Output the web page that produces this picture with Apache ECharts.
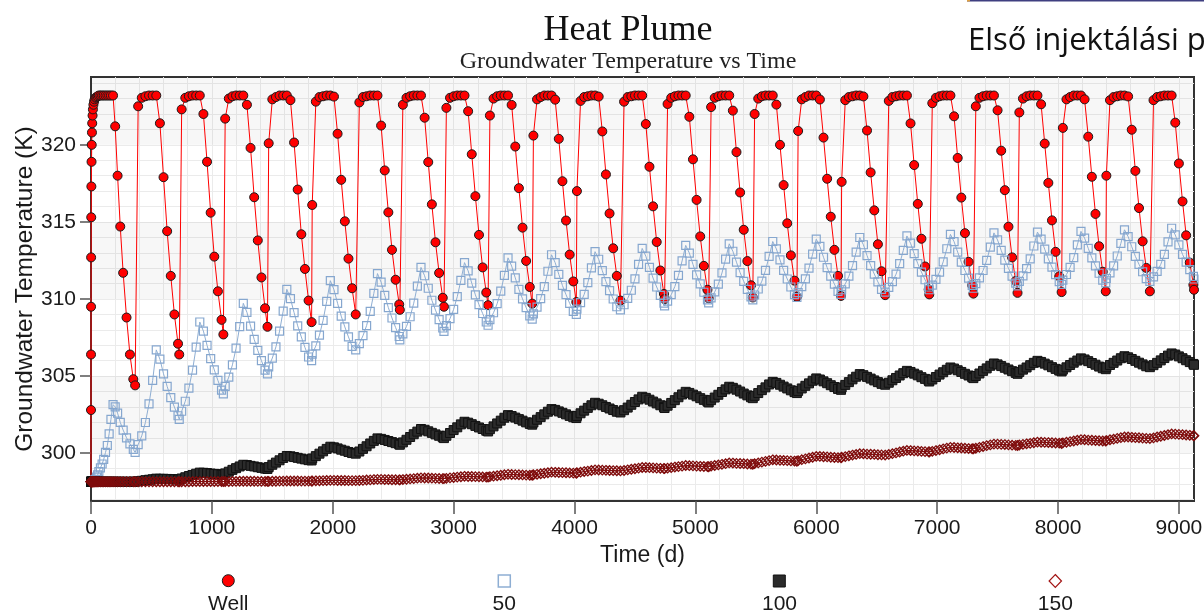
<!DOCTYPE html>
<html>
<head>
<meta charset="utf-8">
<script src="https://cdn.jsdelivr.net/npm/echarts/dist/echarts.min.js"></script>
<style>
html,body{margin:0;padding:0;background:#fff;}
#chart{width:1204px;height:615px;}
</style>
</head>
<body>
<div id="chart"></div>
<script>
// ---------------- DATA ----------------
const seriesNames = ['Well', '50', '100', '150'];
const xTickValues = [0, 1000, 2000, 3000, 4000, 5000, 6000, 7000, 8000, 9000];
const yTickValues = [300, 305, 310, 315, 320];
const shadedBands = [[300, 305], [310, 315], [320, 324.4]];

// output times (days) during the first injection/extraction year
const year1Times = [0, 0.1, 0.25, 0.5, 1, 2, 3, 4.5, 6, 8, 10, 13, 16, 20, 25, 30, 38, 46, 55, 65, 78, 92, 105, 120, 135, 150, 165, 182.5, 200, 220, 242, 266, 294, 322, 350, 365];
// after year 1 the model writes output every 30 days plus at each year end
const cycleDays = 365;
const outputStep = 30;
const cycleCount = 25;

const wellYear1 = [298.15, 302.8, 306.4, 309.5, 312.7, 315.3, 317.3, 318.9, 320.0, 320.8, 321.4, 321.9, 322.3, 322.6, 322.8, 322.95, 323.05, 323.1, 323.15, 323.2, 323.2, 323.2, 323.2, 323.2, 323.2, 323.2, 323.2, 323.2, 321.2, 318.0, 314.7, 311.7, 308.8, 306.4, 304.8, 304.4];
const s50Year1 = [298.15, 298.15, 298.15, 298.15, 298.15, 298.15, 298.15, 298.15, 298.15, 298.15, 298.16, 298.17, 298.18, 298.2, 298.23, 298.27, 298.3, 298.45, 298.6, 298.8, 299.05, 299.3, 299.6, 300.05, 300.5, 301.26, 302.2, 303.15, 303.0, 302.6, 302.0, 301.5, 301.0, 300.6, 300.25, 300.05];
const s100Year1 = [298.15, 298.15, 298.15, 298.15, 298.15, 298.15, 298.15, 298.15, 298.15, 298.15, 298.15, 298.15, 298.15, 298.15, 298.15, 298.15, 298.15, 298.15, 298.15, 298.15, 298.15, 298.15, 298.15, 298.15, 298.15, 298.15, 298.15, 298.15, 298.15, 298.15, 298.15, 298.15, 298.15, 298.15, 298.15, 298.15];
const s150Year1 = [298.15, 298.15, 298.15, 298.15, 298.15, 298.15, 298.15, 298.15, 298.15, 298.15, 298.15, 298.15, 298.15, 298.15, 298.15, 298.15, 298.15, 298.15, 298.15, 298.15, 298.15, 298.15, 298.15, 298.15, 298.15, 298.15, 298.15, 298.15, 298.15, 298.15, 298.15, 298.15, 298.15, 298.15, 298.15, 298.15];

// years 2..25, 13 outputs per year
const wellCycles = [
  [322.5, 323.05, 323.15, 323.2, 323.2, 323.2, 321.4, 317.9, 314.4, 311.5, 309.0, 307.1, 306.4],
  [322.3, 323.05, 323.15, 323.2, 323.2, 323.2, 322.0, 318.9, 315.6, 312.75, 310.5, 308.65, 307.7],
  [321.7, 323.0, 323.15, 323.2, 323.2, 323.2, 322.6, 319.8, 316.6, 313.8, 311.4, 309.4, 308.2],
  [320.1, 322.95, 323.1, 323.2, 323.2, 323.2, 322.9, 320.15, 317.1, 314.2, 311.95, 309.9, 308.5],
  [316.1, 322.8, 323.1, 323.15, 323.2, 323.2, 323.13, 320.72, 317.73, 315.04, 312.62, 310.7, 309.0],
  [322.75, 323.1, 323.15, 323.2, 323.2, 323.2, 321.25, 318.34, 315.62, 313.19, 311.25, 309.65, 309.3],
  [322.6, 323.05, 323.15, 323.2, 323.2, 323.2, 321.76, 318.88, 316.14, 313.68, 311.69, 310.08, 309.5],
  [322.4, 323.05, 323.15, 323.2, 323.2, 323.2, 322.18, 319.39, 316.67, 314.16, 312.05, 310.42, 309.6],
  [321.9, 323.0, 323.15, 323.2, 323.2, 323.2, 322.59, 319.89, 317.19, 314.63, 312.47, 310.78, 309.7],
  [320.6, 322.95, 323.1, 323.2, 323.2, 323.2, 322.93, 320.39, 317.64, 315.09, 312.88, 311.14, 309.8],
  [317.0, 322.85, 323.1, 323.15, 323.2, 323.2, 323.13, 320.87, 318.08, 315.55, 313.29, 311.5, 309.9],
  [322.8, 323.1, 323.15, 323.2, 323.2, 323.2, 321.35, 318.58, 316.01, 313.7, 311.85, 310.33, 310.0],
  [322.65, 323.05, 323.15, 323.2, 323.2, 323.2, 321.82, 319.06, 316.43, 314.06, 312.15, 310.6, 310.05],
  [322.45, 323.05, 323.15, 323.2, 323.2, 323.2, 322.22, 319.53, 316.91, 314.49, 312.46, 310.89, 310.1],
  [322.0, 323.0, 323.15, 323.2, 323.2, 323.2, 322.61, 320.0, 317.39, 314.91, 312.83, 311.19, 310.15],
  [320.9, 322.95, 323.1, 323.2, 323.2, 323.2, 322.94, 320.47, 317.8, 315.34, 313.19, 311.5, 310.2],
  [317.6, 322.9, 323.1, 323.15, 323.2, 323.2, 323.14, 320.93, 318.21, 315.75, 313.55, 311.8, 310.25],
  [322.85, 323.1, 323.15, 323.2, 323.2, 323.2, 321.39, 318.69, 316.17, 313.91, 312.11, 310.62, 310.3],
  [322.7, 323.05, 323.15, 323.2, 323.2, 323.2, 321.85, 319.15, 316.58, 314.27, 312.41, 310.89, 310.35],
  [322.5, 323.05, 323.15, 323.2, 323.2, 323.2, 322.24, 319.62, 317.06, 314.69, 312.7, 311.17, 310.4],
  [322.1, 323.0, 323.15, 323.2, 323.2, 323.2, 322.63, 320.08, 317.53, 315.1, 313.06, 311.47, 310.45],
  [321.1, 322.95, 323.1, 323.2, 323.2, 323.2, 322.95, 320.53, 317.93, 315.52, 313.42, 311.77, 310.5],
  [318.0, 322.9, 323.1, 323.15, 323.2, 323.2, 323.14, 320.98, 318.31, 315.9, 313.74, 312.02, 310.5],
  [322.9, 323.1, 323.15, 323.2, 323.2, 323.2, 321.44, 318.79, 316.33, 314.13, 312.36, 310.92, 310.6]
];
const s50Cycles = [
  [300.55, 301.13, 301.99, 303.2, 304.72, 306.7, 306.1, 305.15, 304.33, 303.61, 302.99, 302.43, 302.2],
  [302.72, 303.37, 304.22, 305.39, 306.88, 308.51, 307.92, 307.0, 306.13, 305.4, 304.72, 304.09, 303.85],
  [304.33, 304.94, 305.73, 306.81, 308.21, 309.72, 309.14, 308.24, 307.38, 306.67, 306.0, 305.39, 305.15],
  [305.6, 306.17, 306.9, 307.92, 309.22, 310.63, 310.03, 309.12, 308.26, 307.54, 306.86, 306.24, 306.0],
  [306.43, 306.96, 307.66, 308.62, 309.85, 311.19, 310.61, 309.72, 308.89, 308.19, 307.54, 306.93, 306.7],
  [307.11, 307.62, 308.28, 309.2, 310.37, 311.65, 311.09, 310.24, 309.44, 308.77, 308.15, 307.57, 307.35],
  [307.74, 308.22, 308.85, 309.73, 310.84, 312.05, 311.51, 310.7, 309.92, 309.28, 308.67, 308.12, 307.9],
  [308.27, 308.73, 309.33, 310.15, 311.21, 312.36, 311.83, 311.03, 310.27, 309.64, 309.06, 308.51, 308.3],
  [308.66, 309.11, 309.7, 310.51, 311.54, 312.67, 312.14, 311.37, 310.63, 310.01, 309.44, 308.91, 308.7],
  [309.04, 309.47, 310.03, 310.81, 311.8, 312.87, 312.36, 311.6, 310.88, 310.28, 309.72, 309.2, 309.0],
  [309.34, 309.76, 310.3, 311.06, 312.02, 313.07, 312.58, 311.84, 311.13, 310.55, 310.0, 309.5, 309.3],
  [309.63, 310.04, 310.57, 311.31, 312.25, 313.28, 312.78, 312.05, 311.36, 310.78, 310.24, 309.74, 309.55],
  [309.87, 310.28, 310.81, 311.53, 312.47, 313.48, 312.98, 312.25, 311.56, 310.98, 310.44, 309.94, 309.75],
  [310.07, 310.46, 310.97, 311.69, 312.59, 313.58, 313.1, 312.39, 311.71, 311.15, 310.63, 310.14, 309.95],
  [310.26, 310.65, 311.16, 311.86, 312.76, 313.73, 313.25, 312.54, 311.86, 311.3, 310.78, 310.29, 310.1],
  [310.41, 310.8, 311.31, 312.01, 312.91, 313.88, 313.41, 312.71, 312.04, 311.48, 310.97, 310.49, 310.3],
  [310.6, 310.98, 311.48, 312.16, 313.04, 313.99, 313.52, 312.82, 312.17, 311.62, 311.11, 310.63, 310.45],
  [310.75, 311.13, 311.61, 312.29, 313.15, 314.09, 313.62, 312.94, 312.29, 311.75, 311.25, 310.78, 310.6],
  [310.9, 311.27, 311.75, 312.41, 313.26, 314.19, 313.72, 313.04, 312.39, 311.85, 311.35, 310.88, 310.7],
  [311.0, 311.37, 311.85, 312.51, 313.36, 314.29, 313.83, 313.16, 312.52, 311.99, 311.49, 311.03, 310.85],
  [311.14, 311.5, 311.97, 312.61, 313.44, 314.34, 313.89, 313.23, 312.6, 312.07, 311.58, 311.13, 310.95],
  [311.23, 311.59, 312.05, 312.69, 313.51, 314.39, 313.95, 313.29, 312.67, 312.15, 311.67, 311.22, 311.05],
  [311.33, 311.69, 312.15, 312.79, 313.61, 314.49, 314.05, 313.39, 312.77, 312.25, 311.77, 311.32, 311.15],
  [311.43, 311.79, 312.25, 312.89, 313.71, 314.59, 314.16, 313.51, 312.9, 312.39, 311.91, 311.47, 311.3]
];
const s100Cycles = [
  [298.18, 298.21, 298.25, 298.28, 298.31, 298.35, 298.34, 298.34, 298.33, 298.32, 298.31, 298.3, 298.3],
  [298.36, 298.44, 298.52, 298.59, 298.67, 298.74, 298.73, 298.71, 298.68, 298.66, 298.64, 298.61, 298.6],
  [298.69, 298.8, 298.92, 299.03, 299.14, 299.25, 299.23, 299.18, 299.14, 299.09, 299.05, 299.0, 298.98],
  [299.1, 299.25, 299.39, 299.54, 299.69, 299.82, 299.8, 299.75, 299.7, 299.65, 299.6, 299.55, 299.53],
  [299.66, 299.81, 299.97, 300.12, 300.28, 300.42, 300.38, 300.31, 300.23, 300.16, 300.08, 300.01, 299.97],
  [300.11, 300.28, 300.45, 300.63, 300.8, 300.96, 300.93, 300.86, 300.79, 300.72, 300.65, 300.58, 300.55],
  [300.7, 300.87, 301.05, 301.23, 301.4, 301.57, 301.52, 301.42, 301.32, 301.22, 301.13, 301.03, 300.98],
  [301.13, 301.31, 301.5, 301.68, 301.87, 302.04, 301.98, 301.88, 301.77, 301.67, 301.57, 301.46, 301.41],
  [301.56, 301.74, 301.93, 302.11, 302.3, 302.47, 302.41, 302.31, 302.21, 302.11, 302.0, 301.9, 301.85],
  [301.99, 302.17, 302.34, 302.52, 302.69, 302.86, 302.81, 302.71, 302.62, 302.52, 302.42, 302.33, 302.28],
  [302.42, 302.59, 302.76, 302.94, 303.11, 303.27, 303.21, 303.11, 303.0, 302.9, 302.8, 302.69, 302.64],
  [302.79, 302.96, 303.14, 303.32, 303.49, 303.66, 303.59, 303.47, 303.35, 303.23, 303.11, 302.99, 302.93],
  [303.08, 303.26, 303.44, 303.63, 303.81, 303.98, 303.91, 303.8, 303.69, 303.57, 303.46, 303.35, 303.29],
  [303.44, 303.61, 303.79, 303.97, 304.14, 304.31, 304.24, 304.12, 304.0, 303.87, 303.75, 303.63, 303.57],
  [303.72, 303.9, 304.09, 304.27, 304.46, 304.63, 304.56, 304.44, 304.32, 304.2, 304.08, 303.96, 303.9],
  [304.04, 304.2, 304.37, 304.53, 304.7, 304.85, 304.78, 304.66, 304.54, 304.41, 304.29, 304.17, 304.11],
  [304.26, 304.43, 304.61, 304.79, 304.96, 305.13, 305.06, 304.95, 304.84, 304.72, 304.61, 304.5, 304.44],
  [304.57, 304.73, 304.88, 305.04, 305.19, 305.34, 305.27, 305.16, 305.05, 304.93, 304.82, 304.71, 304.65],
  [304.78, 304.94, 305.1, 305.25, 305.41, 305.56, 305.49, 305.38, 305.27, 305.15, 305.04, 304.93, 304.87],
  [305.01, 305.17, 305.34, 305.5, 305.67, 305.82, 305.76, 305.65, 305.54, 305.43, 305.32, 305.21, 305.15],
  [305.27, 305.42, 305.56, 305.71, 305.86, 305.99, 305.92, 305.81, 305.7, 305.58, 305.47, 305.36, 305.3],
  [305.42, 305.57, 305.72, 305.87, 306.01, 306.15, 306.08, 305.97, 305.85, 305.74, 305.62, 305.51, 305.45],
  [305.57, 305.72, 305.86, 306.01, 306.16, 306.29, 306.22, 306.11, 305.99, 305.87, 305.76, 305.64, 305.58],
  [305.71, 305.86, 306.02, 306.17, 306.33, 306.47, 306.4, 306.28, 306.16, 306.03, 305.91, 305.79, 305.73]
];
const s150Cycles = [
  [298.15, 298.15, 298.15, 298.15, 298.15, 298.15, 298.15, 298.15, 298.15, 298.15, 298.15, 298.15, 298.15],
  [298.15, 298.15, 298.15, 298.16, 298.16, 298.16, 298.16, 298.16, 298.16, 298.16, 298.16, 298.16, 298.16],
  [298.16, 298.16, 298.17, 298.17, 298.18, 298.18, 298.18, 298.18, 298.18, 298.17, 298.17, 298.17, 298.17],
  [298.17, 298.18, 298.18, 298.19, 298.19, 298.2, 298.2, 298.2, 298.2, 298.19, 298.19, 298.19, 298.19],
  [298.2, 298.21, 298.21, 298.22, 298.23, 298.24, 298.24, 298.23, 298.23, 298.23, 298.22, 298.22, 298.22],
  [298.23, 298.24, 298.26, 298.27, 298.29, 298.3, 298.3, 298.29, 298.29, 298.28, 298.28, 298.27, 298.27],
  [298.29, 298.31, 298.33, 298.35, 298.38, 298.4, 298.39, 298.39, 298.38, 298.37, 298.36, 298.35, 298.35],
  [298.37, 298.4, 298.42, 298.45, 298.47, 298.5, 298.49, 298.49, 298.48, 298.47, 298.46, 298.45, 298.45],
  [298.48, 298.51, 298.54, 298.57, 298.6, 298.63, 298.62, 298.61, 298.6, 298.59, 298.58, 298.57, 298.57],
  [298.6, 298.63, 298.67, 298.7, 298.73, 298.77, 298.76, 298.75, 298.74, 298.73, 298.72, 298.71, 298.7],
  [298.73, 298.77, 298.81, 298.84, 298.88, 298.92, 298.91, 298.9, 298.89, 298.88, 298.87, 298.86, 298.85],
  [298.88, 298.92, 298.96, 298.99, 299.03, 299.07, 299.07, 299.06, 299.05, 299.03, 299.02, 299.01, 299.0],
  [299.03, 299.06, 299.1, 299.13, 299.16, 299.2, 299.19, 299.18, 299.16, 299.15, 299.14, 299.13, 299.12],
  [299.16, 299.2, 299.24, 299.28, 299.32, 299.37, 299.36, 299.34, 299.33, 299.32, 299.3, 299.29, 299.28],
  [299.32, 299.37, 299.42, 299.47, 299.52, 299.57, 299.56, 299.54, 299.53, 299.52, 299.5, 299.49, 299.48],
  [299.52, 299.58, 299.63, 299.69, 299.74, 299.79, 299.79, 299.77, 299.76, 299.74, 299.72, 299.71, 299.7],
  [299.74, 299.78, 299.83, 299.88, 299.92, 299.97, 299.96, 299.94, 299.93, 299.92, 299.9, 299.89, 299.88],
  [299.92, 299.97, 300.02, 300.08, 300.13, 300.18, 300.17, 300.15, 300.14, 300.12, 300.1, 300.09, 300.08],
  [300.12, 300.17, 300.22, 300.28, 300.33, 300.38, 300.37, 300.35, 300.34, 300.32, 300.3, 300.29, 300.28],
  [300.32, 300.38, 300.43, 300.49, 300.54, 300.59, 300.59, 300.57, 300.56, 300.54, 300.52, 300.51, 300.5],
  [300.53, 300.57, 300.61, 300.64, 300.68, 300.72, 300.71, 300.7, 300.69, 300.68, 300.66, 300.65, 300.63],
  [300.67, 300.71, 300.75, 300.79, 300.84, 300.88, 300.87, 300.85, 300.84, 300.82, 300.81, 300.79, 300.78],
  [300.82, 300.87, 300.91, 300.96, 301.01, 301.05, 301.05, 301.03, 301.01, 301.0, 300.98, 300.96, 300.95],
  [300.99, 301.05, 301.1, 301.15, 301.2, 301.25, 301.24, 301.22, 301.2, 301.18, 301.16, 301.14, 301.13]
];

// ---------------- BUILD ----------------
const times = year1Times.slice();
for (let n = 2; n <= cycleCount; n++) {
  const start = cycleDays * (n - 1), end = cycleDays * n;
  for (let t = (Math.floor(start / outputStep) + 1) * outputStep; t <= end; t += outputStep) times.push(t);
  if (end % outputStep !== 0) times.push(end);
}
function pairs(year1, cycles) {
  const vals = year1.concat(...cycles);
  const out = [];
  for (let i = 0; i < Math.min(vals.length, times.length); i++) out.push([times[i], vals[i]]);
  return out;
}

const chart = echarts.init(document.getElementById('chart'), null, {renderer: 'canvas'});
const axisFont = 'Liberation Sans, Arial, sans-serif';
const serifFont = 'Liberation Serif, Times New Roman, serif';
const gridColor = '#ebebeb';

function lineSeries(name, data, symbol, size, lineColor, fill, border, bw) {
  return {
    name: name, type: 'line', data: data,
    symbol: symbol, symbolSize: size, showSymbol: true, showAllSymbol: true,
    animation: false, clip: true,
    lineStyle: {color: lineColor, width: 1},
    itemStyle: {color: fill, borderColor: border, borderWidth: bw},
    emphasis: {disabled: true}
  };
}

const wellSeries = lineSeries('Well', pairs(wellYear1, wellCycles), 'circle', 9, '#ff0000', '#ff0000', '#1a1a1a', 1);
wellSeries.markArea = {
  silent: true,
  itemStyle: {color: 'rgba(0,0,0,0.03)'},
  data: shadedBands.map(b => [{yAxis: b[0]}, {yAxis: b[1]}])
};

const option = {
  backgroundColor: '#ffffff',
  animation: false,
  title: {
    text: 'Heat Plume',
    subtext: 'Groundwater Temperature vs Time',
    left: 623, textAlign: 'center', top: 8, itemGap: 1,
    textStyle: {fontFamily: serifFont, fontSize: 36, fontWeight: 'normal', color: '#111'},
    subtextStyle: {fontFamily: serifFont, fontSize: 24, color: '#222'}
  },
  grid: {left: 91, right: 10, top: 77, bottom: 114, outerBoundsMode: 'none', containLabel: false, show: true, borderColor: '#333', borderWidth: 2, backgroundColor: 'transparent'},
  xAxis: {
    type: 'value', min: 0, max: 9125, interval: 1000,
    name: 'Time (d)', nameLocation: 'middle', nameGap: 40,
    nameTextStyle: {fontFamily: axisFont, fontSize: 23, color: '#1a1a1a'},
    axisLine: {show: true, onZero: false, lineStyle: {color: '#333', width: 2}},
    axisTick: {show: true, length: 13, customValues: xTickValues, lineStyle: {color: '#555', width: 1.5}},
    axisLabel: {fontFamily: axisFont, fontSize: 21, color: '#1a1a1a', margin: 17, customValues: xTickValues, formatter: v => String(v)},
    splitLine: {show: true, lineStyle: {color: gridColor, width: 1}},
    minorTick: {show: false, splitNumber: 5},
    minorSplitLine: {show: true, lineStyle: {color: gridColor, width: 1}}
  },
  yAxis: {
    type: 'value', min: 296.9, max: 324.4, splitNumber: 5,
    name: 'Groundwater Temperature (K)', nameLocation: 'middle', nameGap: 53, nameRotate: 90, nameMoveOverlap: false,
    nameTextStyle: {fontFamily: axisFont, fontSize: 24.5, color: '#1a1a1a'},
    axisLine: {show: true, onZero: false, lineStyle: {color: '#333', width: 2}},
    axisTick: {show: true, length: 11, customValues: yTickValues, lineStyle: {color: '#555', width: 1.5}},
    axisLabel: {fontFamily: axisFont, fontSize: 21, color: '#1a1a1a', margin: 15, customValues: yTickValues, formatter: v => String(v)},
    splitLine: {show: true, lineStyle: {color: gridColor, width: 1}},
    splitArea: {show: false},
    minorTick: {show: false, splitNumber: 5},
    minorSplitLine: {show: true, lineStyle: {color: gridColor, width: 1}}
  },
  legend: {show: false},
  series: [
    wellSeries,
    lineSeries('50', pairs(s50Year1, s50Cycles), 'rect', 8, '#8eaed3', 'rgba(255,255,255,0)', '#86a7cf', 1.2),
    lineSeries('100', pairs(s100Year1, s100Cycles), 'rect', 9, '#222222', '#2b2b2b', '#111111', 1),
    lineSeries('150', pairs(s150Year1, s150Cycles), 'diamond', 9.5, '#7a0a0a', 'rgba(255,255,255,0)', '#7f0c0c', 1.3)
  ],
  graphic: [
    {type: 'rect', left: 967, top: 0, shape: {width: 237, height: 1.5}, style: {fill: '#3f3f80'}, silent: true},
    {type: 'rect', left: 967, top: 0, shape: {width: 3, height: 1.5}, style: {fill: '#e0a040'}, silent: true},
    {type: 'text', left: 968, top: 26, style: {text: 'Első injektálási p', font: '31px "Open Sans", sans-serif', fill: '#111'}, silent: true},
    // legend
    {type: 'circle', shape: {cx: 228.3, cy: 580.7, r: 6}, style: {fill: '#ff0000', stroke: '#1a1a1a', lineWidth: 1}, silent: true},
    {type: 'text', style: {x: 228.3, y: 604, text: 'Well', align: 'center', verticalAlign: 'middle', font: '21px "Liberation Sans", Arial, sans-serif', fill: '#1a1a1a'}, silent: true},
    {type: 'rect', shape: {x: 498.3, y: 575, width: 12, height: 12}, style: {fill: '#ffffff', stroke: '#8eaed3', lineWidth: 1.5}, silent: true},
    {type: 'text', style: {x: 504.3, y: 604, text: '50', align: 'center', verticalAlign: 'middle', font: '21px "Liberation Sans", Arial, sans-serif', fill: '#1a1a1a'}, silent: true},
    {type: 'rect', shape: {x: 773.3, y: 575, width: 12, height: 12}, style: {fill: '#2b2b2b', stroke: '#111', lineWidth: 1}, silent: true},
    {type: 'text', style: {x: 779.5, y: 604, text: '100', align: 'center', verticalAlign: 'middle', font: '21px "Liberation Sans", Arial, sans-serif', fill: '#1a1a1a'}, silent: true},
    {type: 'polygon', shape: {points: [[1055.3, 574.5], [1061.5, 581], [1055.3, 587.5], [1049.1, 581]]}, style: {fill: '#ffffff', stroke: '#a31515', lineWidth: 1.2}, silent: true},
    {type: 'text', style: {x: 1055.3, y: 604, text: '150', align: 'center', verticalAlign: 'middle', font: '21px "Liberation Sans", Arial, sans-serif', fill: '#1a1a1a'}, silent: true}
  ]
};
chart.setOption(option);
</script>
</body>
</html>
